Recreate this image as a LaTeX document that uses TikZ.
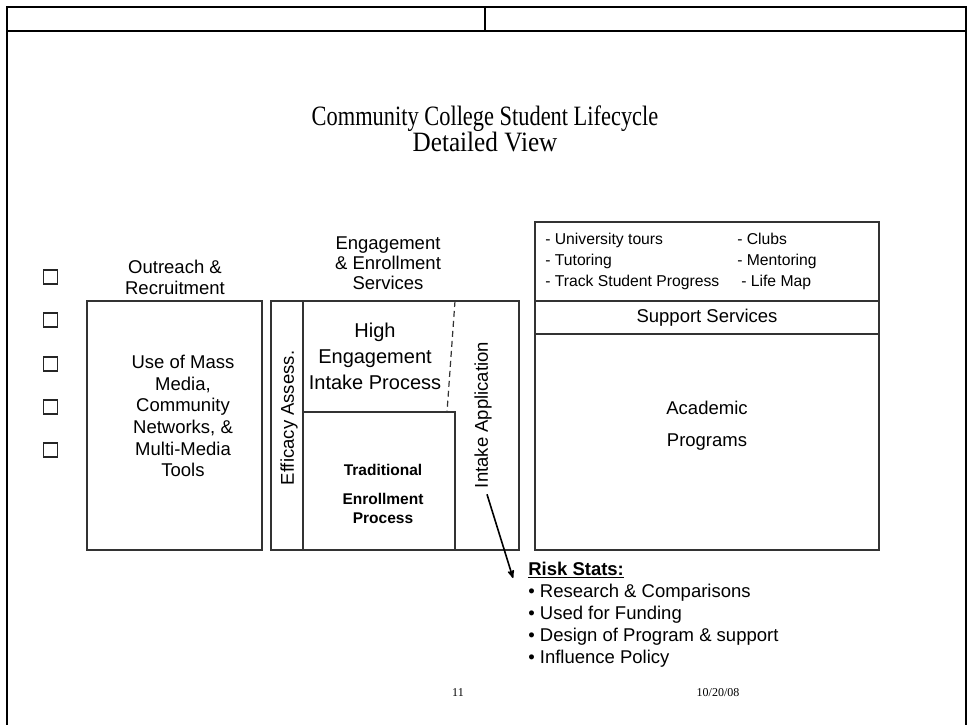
\documentclass[tikz,border=0pt]{standalone}
\usepackage{fontspec}
\setmainfont{Liberation Serif}
\setsansfont{Liberation Sans}
\usetikzlibrary{arrows}

\tikzset{
  box/.style={draw=black!80, line width=1.3pt},
  frame/.style={draw=black, line width=2.2pt},
  lbl/.style={font=\sffamily\fontsize{18.5}{21}\selectfont, align=center, inner sep=0pt},
  small/.style={font=\sffamily\fontsize{15.7}{21}\selectfont, align=left, inner sep=0pt},
  tick/.style={draw=black!85, line width=1.1pt, minimum size=14pt, inner sep=0pt},
  foot/.style={font=\fontsize{12}{14}\selectfont, inner sep=0pt}
}

\begin{document}
\begin{tikzpicture}[x=1pt,y=-1pt,->,>=stealth',semithick]

  \useasboundingbox (0,0) rectangle (969,725);

  \draw[frame,-] (7,725) -- (7,7) -- (966,7) -- (966,725);
  \draw[line width=1.3pt,-] (7,31) -- (966,31);
  \draw[line width=1.3pt,-] (485,7) -- (485,31);

  \node[inner sep=0pt, align=center, font=\fontsize{28}{23}\selectfont] (title) at (485,129)
       {\scalebox{0.8}[1]{Community College Student Lifecycle}\\\scalebox{0.9}[1]{Detailed View}};

  \node[tick] (cb1) at (50.5,277) {};
  \node[tick] (cb2) at (50.5,320) {};
  \node[tick] (cb3) at (50.5,364) {};
  \node[tick] (cb4) at (50.5,407) {};
  \node[tick] (cb5) at (50.5,450) {};

  \draw[box,-] (87,301) rectangle (262,550);
  \node[lbl] (outhead) at (175,277) {Outreach \&\\Recruitment};
  \node[lbl, font=\sffamily\fontsize{18.5}{21.7}\selectfont] (media) at (183,416)
       {Use of Mass\\Media,\\Community\\Networks, \&\\Multi-Media\\Tools};

  \draw[box,-] (271,301) rectangle (519,550);
  \draw[box,-] (303,301) -- (303,550);
  \draw[box,-] (303,412) -- (455,412) -- (455,550);
  \draw[box,-,line width=1.2pt,dash pattern=on 6pt off 4pt] (455,301) -- (447,412);
  \node[lbl, font=\sffamily\fontsize{18.5}{20}\selectfont] (enghead) at (388,263)
       {Engagement\\\& Enrollment\\Services};
  \node[lbl, font=\sffamily\fontsize{20}{26}\selectfont] (high) at (375,356)
       {High\\Engagement\\Intake Process};
  \node[lbl, rotate=90] (efficacy) at (289,418) {Efficacy Assess.};
  \node[lbl, rotate=90] (intake) at (483,415) {Intake Application};
  \node[lbl, font=\sffamily\bfseries\fontsize{15.5}{19}\selectfont] (trad) at (383,494)
       {Traditional\\[10pt]Enrollment\\Process};

  \draw[box,-] (535,222) rectangle (879,550);
  \draw[box,-] (535,301) -- (879,301);
  \draw[box,-] (535,334) -- (879,334);
  \node[small, anchor=west] (listl) at (545,261)
       {- University tours\\- Tutoring\\- Track Student Progress};
  \node[small, anchor=west] (listr) at (737,261)
       {- Clubs\\- Mentoring\\\hspace{4pt}- Life Map};
  \node[lbl] (support) at (707,318) {Support Services};
  \node[lbl, font=\sffamily\fontsize{18.5}{32}\selectfont] (academic) at (707,426)
       {Academic\\Programs};

  \node[lbl, align=left, anchor=north west, font=\sffamily\fontsize{18.5}{22}\selectfont] (risk) at (528,562)
       {\textbf{\underline{Risk Stats:}}\\• Research \& Comparisons\\• Used for Funding\\• Design of Program \& support\\• Influence Policy};

  \coordinate (riskpt) at (513,578);
  \draw[line width=1.6pt] ([xshift=4pt,yshift=-6pt]intake.west) -- (riskpt);

  \node[foot] (pagenum) at (458,693) {11};
  \node[foot] (date) at (718,693) {10/20/08};

\end{tikzpicture}
\end{document}
